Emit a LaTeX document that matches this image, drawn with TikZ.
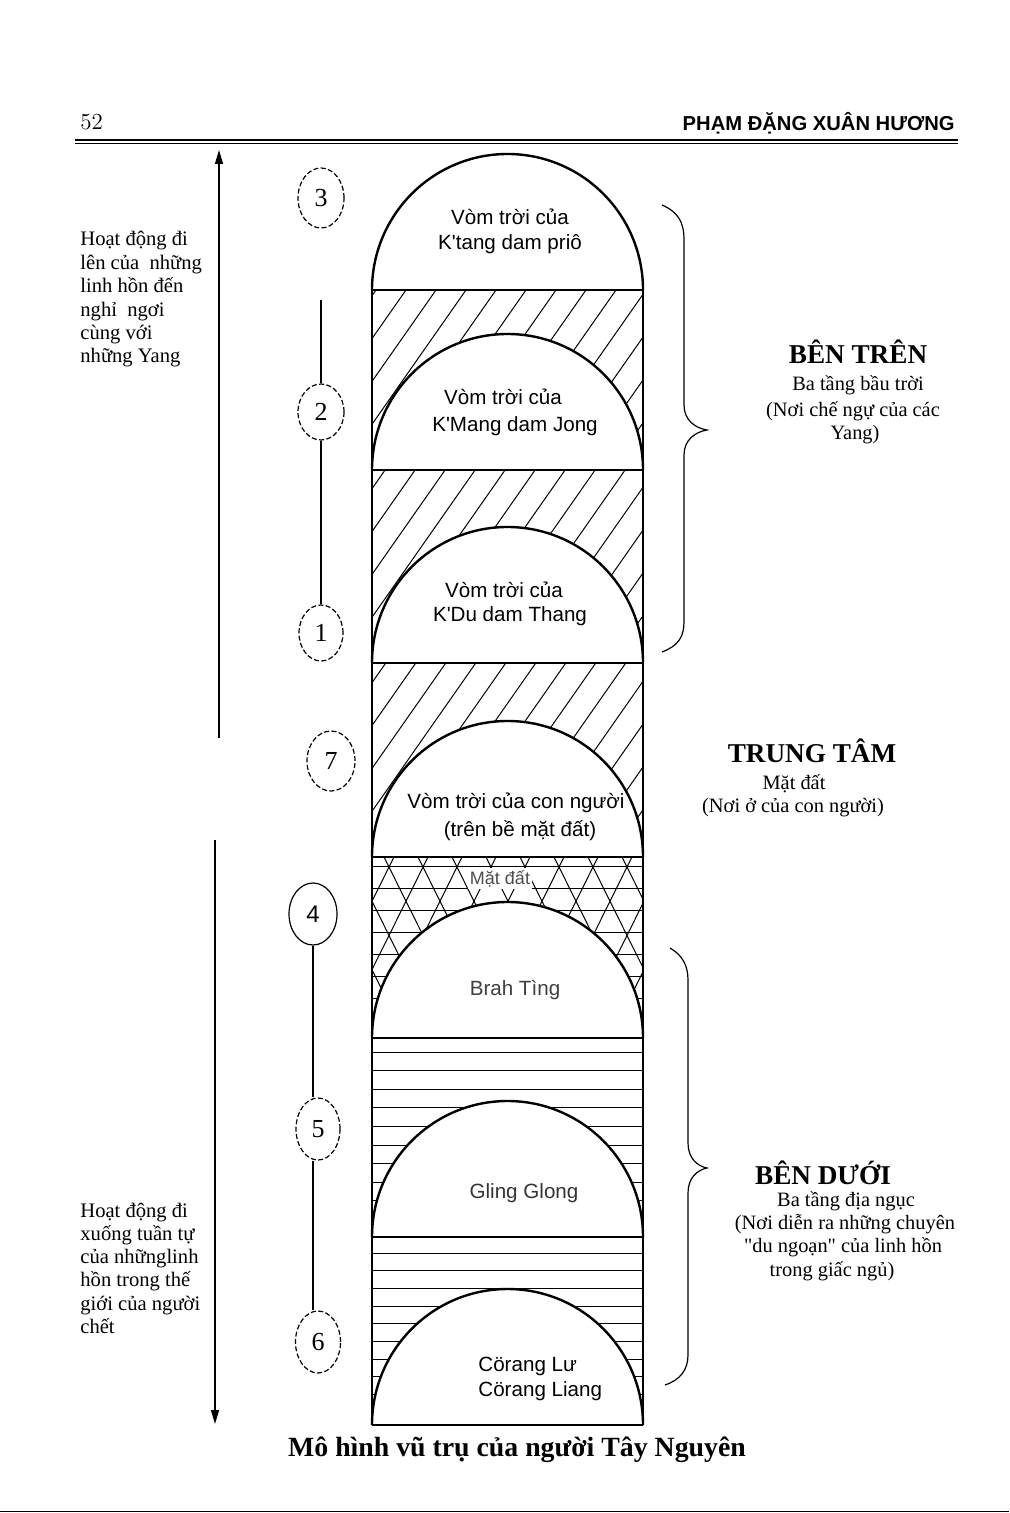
\documentclass[tikz,border=0pt]{standalone}
\usepackage{fontspec}
\newfontfamily\tnr{Liberation Serif}
\newfontfamily\arial[Ligatures=TeXOff]{Liberation Sans}
\usetikzlibrary{shapes.geometric,arrows.meta}
\newcommand\domepath[1]{(372,#1) .. controls (372,#1-75.1) and (432.7,#1-136) .. (507.5,#1-136) .. controls (582.3,#1-136) and (643,#1-75.1) .. (643,#1)}
\newcommand\diaghatch[2]{%
  \begin{scope}
    \clip (372,#1) rectangle (643,#2);
    \foreach \s in {190,220,...,660} \draw[hatch] (\s,#2) -- ++(140,-200);
  \end{scope}}
\begin{document}
\begin{tikzpicture}[x=0.5pt,y=-0.5pt,
  hatch/.style={line width=0.5pt},
  domeline/.style={line width=1.2pt},
  wall/.style={line width=1pt},
  lefttxt/.style={anchor=base west,inner sep=0,font=\tnr\fontsize{10.3pt}{11.7pt}\selectfont},
  head/.style={anchor=base,inner sep=0,font=\tnr\bfseries\fontsize{13.6pt}{16pt}\selectfont},
  rtxt/.style={anchor=base,inner sep=0,font=\tnr\fontsize{10.2pt}{12pt}\selectfont},
  dtxt/.style={anchor=base,inner sep=0,font=\arial\fontsize{10.3pt}{12pt}\selectfont},
  numc/.style={ellipse,draw,inner sep=0,line width=0.6pt,font=\tnr\fontsize{13pt}{15pt}\selectfont},
  dsh/.style={dash pattern=on 2.5pt off 1.2pt},
  conn/.style={line width=0.6pt},
  arr/.style={line width=0.7pt,-{Triangle[width=4pt,length=7pt]}},
  brace/.style={line width=0.6pt}]
\useasboundingbox (0,0) rectangle (1009,1513);
\fill[white] (0,0) rectangle (1009,1513);
% header
\node[anchor=base west,inner sep=0,font=\fontsize{11.5pt}{13pt}\selectfont] (pnum) at (80,130) {52};
\node[anchor=base east,inner sep=0,font=\arial\bfseries\fontsize{10.1pt}{12pt}\selectfont] (author) at (955,131) {PHẠM ĐẶNG XUÂN HƯƠNG};
\draw[line width=1pt] (75,140) -- (958,140);
\draw[line width=0.5pt] (75,143.5) -- (958,143.5);
\draw[line width=0.5pt] (0,1511) -- (1009,1511);
% hatching
\diaghatch{290}{470}
\diaghatch{470}{663}
\diaghatch{663}{857}
\begin{scope}
  \clip (372,857) rectangle (643,1038);
  \foreach \s in {270,304,...,760} {
    \draw[hatch] (\s,1038) -- ++(90,-181);
    \draw[hatch] (\s,1038) -- ++(-90,-181);
  }
  \foreach \y in {866,888,...,1030} \draw[hatch] (372,\y) -- (643,\y);
\end{scope}
\foreach \k in {0,...,9} \draw[hatch] (372,{1052+18.6*\k}) -- (643,{1052+18.6*\k});
\foreach \k in {0,...,9} \draw[hatch] (372,{1253+17.7*\k}) -- (643,{1253+17.7*\k});
% domes
\foreach \b in {290,470,663,857,1038,1237,1425} {
  \fill[white] \domepath{\b} -- cycle;
  \draw[domeline] \domepath{\b};
}
% walls and band lines
\draw[wall] (372,290) -- (372,1425);
\draw[wall] (643,290) -- (643,1425);
\foreach \b in {290,470,663,857,1038,1237} \draw[wall] (372,\b) -- (643,\b);
\draw[line width=1.4pt] (372,1425) -- (643,1425);
% dome texts
\node[dtxt] (d1a) at (510,225) {Vòm trời của};
\node[dtxt] (d1b) at (510,250) {K'tang dam priô};
\node[dtxt] (d2a) at (503,405) {Vòm trời của};
\node[dtxt] (d2b) at (515,431) {K'Mang dam Jong};
\node[dtxt] (d3a) at (504,597) {Vòm trời của};
\node[dtxt] (d3b) at (510,621) {K'Du dam Thang};
\node[dtxt] (d4a) at (516,808) {Vòm trời của con người};
\node[dtxt] (d4b) at (520,836) {(trên bề mặt đất)};
\node[dtxt,font=\arial\fontsize{9pt}{11pt}\selectfont,text=black!70,fill=white,inner sep=1pt] (matdat) at (500,884) {Mặt đất};
\node[dtxt,text=black!75] (brah) at (515,995) {Brah Tìng};
\node[dtxt,text=black!80] (gling) at (524,1198) {Gling Glong};
\node[dtxt,anchor=base west] (cor1) at (478,1371) {Cörang Lư};
\node[dtxt,anchor=base west] (cor2) at (478,1396) {Cörang Liang};
% numbered circles
\node[numc,dsh,minimum width=23pt,minimum height=30pt] (c3) at (321,198) {3};
\node[numc,dsh,minimum width=23pt,minimum height=28pt] (c2) at (321,412) {2};
\node[numc,dsh,minimum width=22pt,minimum height=28pt] (c1) at (321,633) {1};
\node[numc,dsh,minimum width=24pt,minimum height=30pt] (c7) at (331,761) {7};
\node[numc,minimum width=24pt,minimum height=31pt,font=\arial\fontsize{12pt}{14pt}\selectfont] (c4) at (313,914) {4};
\node[numc,dsh,minimum width=22pt,minimum height=31pt] (c5) at (318,1129) {5};
\node[numc,dsh,minimum width=22.5pt,minimum height=31pt] (c6) at (318,1342) {6};
\coordinate (l32) at (321,300);
\draw[conn] (l32) -- (c2.north);
\draw[conn] (c2.south) -- (c1.north);
\draw[conn] (c4.south) -- (c4.south |- c5.north);
\draw[conn] (c4.south |- c5.south) -- (c4.south |- c6.north);
% left arrows
\coordinate (upS) at (219,738);
\coordinate (upE) at (219,150);
\draw[arr] (upS) -- (upE);
\coordinate (dnS) at (215,840);
\coordinate (dnE) at (215,1424);
\draw[arr] (dnS) -- (dnE);
% left texts
\foreach \t [count=\i] in {Hoạt động đi, lên của\ \ những, linh hồn đến, nghỉ\ \ ngơi, cùng với, những Yang}
  \node[lefttxt] (lt\i) at (80,{246+23.4*(\i-1)}) {\t};
\foreach \t [count=\i] in {Hoạt động đi, xuống tuần tự, của nhữnglinh, hồn trong thế, giới của người, chết}
  \node[lefttxt] (lb\i) at (80,{1217+23.3*(\i-1)}) {\t};
% braces
\draw[brace] (662,205) .. controls (678,212) and (684,222) .. (684,240) -- (684,405)
  .. controls (684,420) and (695,428) .. (707,430) .. controls (695,432) and (684,440) .. (684,455)
  -- (684,622) .. controls (684,637) and (678,646) .. (662,652);
\draw[brace] (670,948) .. controls (682,955) and (688,965) .. (688,980) -- (688,1143)
  .. controls (688,1158) and (697,1166) .. (707,1168) .. controls (697,1170) and (688,1178) .. (688,1193)
  -- (688,1355) .. controls (688,1370) and (680,1380) .. (665,1385);
% right texts
\node[head] (bt) at (858,364) {BÊN TRÊN};
\node[rtxt] (bt1) at (858,391) {Ba tầng bầu trời};
\node[rtxt] (bt2) at (853,416) {(Nơi chế ngự của các};
\node[rtxt] (bt3) at (855,439) {Yang)};
\node[head] (tt) at (812,762) {TRUNG TÂM};
\node[rtxt] (tt1) at (794,789) {Mặt đất};
\node[rtxt] (tt2) at (793,812) {(Nơi ở của con người)};
\node[head] (bd) at (823,1184) {BÊN DƯỚI};
\node[rtxt] (bd1) at (846,1206) {Ba tầng địa ngục};
\node[rtxt] (bd2) at (845,1229) {(Nơi diễn ra những chuyên};
\node[rtxt] (bd3) at (843,1252) {"du ngoạn" của linh hồn};
\node[rtxt] (bd4) at (832,1276) {trong giấc ngủ)};
% caption
\node[anchor=base,inner sep=0,font=\tnr\bfseries\fontsize{13.9pt}{16pt}\selectfont] (cap) at (517,1456) {Mô hình vũ trụ của người Tây Nguyên};
\end{tikzpicture}
\end{document}
